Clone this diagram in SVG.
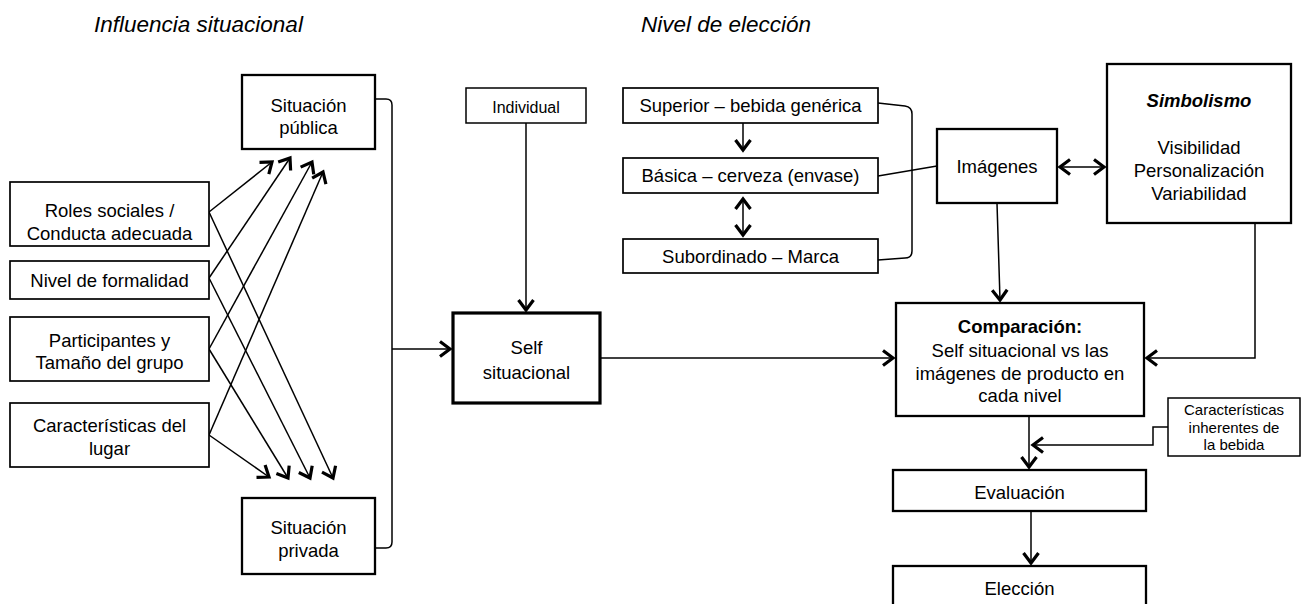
<svg xmlns="http://www.w3.org/2000/svg" width="1301" height="604" viewBox="0 0 1301 604">
  <style>
    text { font-family: "Liberation Sans", Arial, sans-serif; font-size: 18.5px; fill: #000; text-anchor: middle; }
    .title { font-size: 22.5px; font-style: italic; text-anchor: start; }
    .small { font-size: 16px; }
    .tiny { font-size: 15px; }
    .bold { font-weight: bold; }
    .bi { font-weight: bold; font-style: italic; }
    rect { fill: #fff; stroke: #000; }
    .b1 { stroke-width: 1.5; }
    .b15 { stroke-width: 1.7; }
    .b2 { stroke-width: 2.3; }
    .b3 { stroke-width: 3.2; }
    .conn path, .conn line { fill: none; stroke: #000; stroke-width: 1.5; }
    .arr { marker-end: url(#head); }
    .dbl { marker-start: url(#head); marker-end: url(#head); }
  </style>
  <defs>
    <marker id="head" markerUnits="userSpaceOnUse" markerWidth="18" markerHeight="20" refX="12" refY="9" orient="auto-start-reverse" overflow="visible">
      <path d="M2,1.5 L12,9 L2,16.5" fill="none" stroke="#000" stroke-width="3.2" stroke-linejoin="miter"/>
    </marker>
  </defs>

  <!-- column headings -->
  <text class="title" x="94" y="32">Influencia situacional</text>
  <text class="title" x="641" y="32">Nivel de elección</text>

  <!-- connectors -->
  <g id="connectors" class="conn">
    <!-- situational factors to public situation -->
    <line class="arr" x1="209" y1="212" x2="272" y2="162"/>
    <line class="arr" x1="209" y1="278" x2="290" y2="158"/>
    <line class="arr" x1="209" y1="349" x2="312" y2="162"/>
    <line class="arr" x1="209" y1="435" x2="323" y2="172"/>
    <!-- situational factors to private situation -->
    <line class="arr" x1="209" y1="435" x2="269" y2="477"/>
    <line class="arr" x1="209" y1="349" x2="288" y2="478"/>
    <line class="arr" x1="209" y1="278" x2="310" y2="478"/>
    <line class="arr" x1="209" y1="212" x2="333" y2="478"/>
    <!-- bracket joining both situations -->
    <path d="M375,99 L386,99 Q392,99 392,105 L392,542 Q392,548 386,548 L375,548"/>
    <line class="arr" x1="392" y1="349" x2="450" y2="349"/>
    <!-- individual to situational self -->
    <line class="arr" x1="526" y1="123" x2="526" y2="310"/>
    <!-- self to comparison -->
    <line class="arr" x1="600" y1="358" x2="893" y2="358"/>
    <!-- choice levels -->
    <line class="arr" x1="743" y1="123" x2="743" y2="150"/>
    <line class="dbl" x1="743" y1="199" x2="743" y2="235"/>
    <path d="M878,103 L905,106 Q912,107 912,114 L912,251 Q912,258 905,258 L878,260"/>
    <line x1="878" y1="176" x2="937" y2="166"/>
    <!-- images and symbolism -->
    <line class="dbl" x1="1060" y1="167" x2="1104" y2="167"/>
    <line class="arr" x1="997" y1="203" x2="1000" y2="300"/>
    <path class="arr" d="M1255,223 L1255,358 L1147,358"/>
    <!-- comparison to evaluation to choice -->
    <line class="arr" x1="1029" y1="416" x2="1029" y2="467"/>
    <path class="arr" d="M1168,427 L1153,427 L1153,445 L1033,445"/>
    <line class="arr" x1="1031" y1="511" x2="1031" y2="563"/>
  </g>

  <g id="situacion-publica">
    <rect class="b2" x="242" y="75" width="133" height="74"/>
    <text x="308.5" y="111.5">Situación</text>
    <text x="308.5" y="133.5">pública</text>
  </g>
  <g id="situacion-privada">
    <rect class="b2" x="242" y="498" width="133" height="76"/>
    <text x="308.5" y="533.5">Situación</text>
    <text x="308.5" y="556.5">privada</text>
  </g>
  <g id="roles">
    <rect class="b15" x="10" y="182" width="199" height="64"/>
    <text x="109.5" y="216.5">Roles sociales /</text>
    <text x="109.5" y="239.5">Conducta adecuada</text>
  </g>
  <g id="formalidad">
    <rect class="b15" x="10" y="261" width="199" height="38"/>
    <text x="109.5" y="286.5">Nivel de formalidad</text>
  </g>
  <g id="participantes">
    <rect class="b15" x="10" y="317" width="199" height="64"/>
    <text x="109.5" y="346.5">Participantes y</text>
    <text x="109.5" y="368.5">Tamaño del grupo</text>
  </g>
  <g id="lugar">
    <rect class="b15" x="10" y="403" width="199" height="64"/>
    <text x="109.5" y="431.5">Características del</text>
    <text x="109.5" y="454.5">lugar</text>
  </g>
  <g id="individual">
    <rect class="b1" x="466" y="88" width="120" height="35"/>
    <text class="small" x="526" y="112.5">Individual</text>
  </g>
  <g id="self-situacional">
    <rect class="b3" x="453" y="313" width="147" height="90"/>
    <text x="526.5" y="353.5">Self</text>
    <text x="526.5" y="378.5">situacional</text>
  </g>
  <g id="superior">
    <rect class="b15" x="623" y="88" width="255" height="35"/>
    <text x="750.5" y="112">Superior – bebida genérica</text>
  </g>
  <g id="basica">
    <rect class="b15" x="623" y="158" width="255" height="35"/>
    <text x="750.5" y="182">Básica – cerveza (envase)</text>
  </g>
  <g id="subordinado">
    <rect class="b15" x="623" y="239" width="255" height="34"/>
    <text x="750.5" y="262.5">Subordinado – Marca</text>
  </g>
  <g id="imagenes">
    <rect class="b2" x="937" y="129" width="120" height="74"/>
    <text x="997" y="172.5">Imágenes</text>
  </g>
  <g id="simbolismo">
    <rect class="b2" x="1107" y="64" width="184" height="159"/>
    <text class="bi" x="1199" y="106.5">Simbolismo</text>
    <text x="1199" y="153.5">Visibilidad</text>
    <text x="1199" y="176.5">Personalización</text>
    <text x="1199" y="199.5">Variabilidad</text>
  </g>
  <g id="comparacion">
    <rect class="b2" x="896" y="303" width="248" height="113"/>
    <text class="bold" x="1020" y="332.5">Comparación:</text>
    <text x="1020" y="356.5">Self situacional vs las</text>
    <text x="1020" y="379.5">imágenes de producto en</text>
    <text x="1020" y="401.5">cada nivel</text>
  </g>
  <g id="caracteristicas-bebida">
    <rect class="b1" x="1168" y="398" width="132" height="58"/>
    <text class="tiny" x="1234" y="415">Características</text>
    <text class="tiny" x="1234" y="432.5">inherentes de</text>
    <text class="tiny" x="1234" y="450">la bebida</text>
  </g>
  <g id="evaluacion">
    <rect class="b2" x="893" y="470" width="253" height="41"/>
    <text x="1019.5" y="498.5">Evaluación</text>
  </g>
  <g id="eleccion">
    <rect class="b2" x="893" y="566" width="253" height="50"/>
    <text x="1019.5" y="594.5">Elección</text>
  </g>
</svg>
